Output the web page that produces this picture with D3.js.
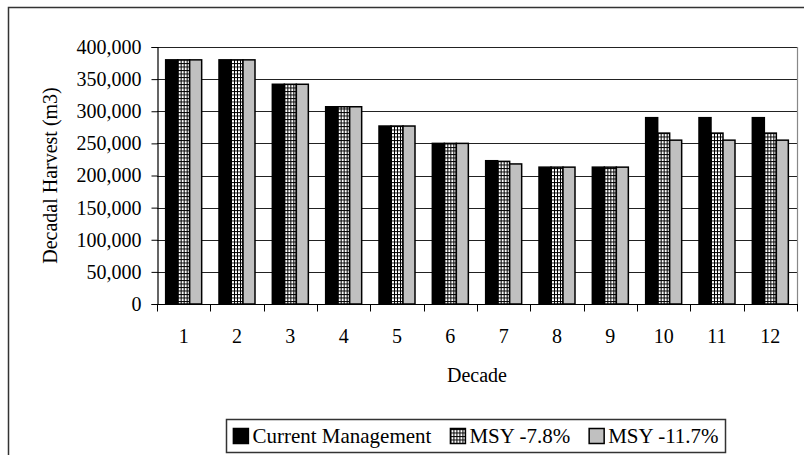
<!DOCTYPE html>
<html>
<head>
<meta charset="utf-8">
<script src="https://cdn.jsdelivr.net/npm/d3@7"></script>
<style>
  html, body { margin: 0; padding: 0; background: #fff; }
  svg { display: block; }
  text { font-family: "Liberation Serif", "Times New Roman", serif; fill: #000; }
</style>
</head>
<body>
<svg id="chart" width="804" height="455"></svg>
<script>
// Decadal harvest volumes (m3) under three management scenarios
const decades = ["1", "2", "3", "4", "5", "6", "7", "8", "9", "10", "11", "12"];
const seriesNames = ["Current Management", "MSY -7.8%", "MSY -11.7%"];
const currentManagement = [380000, 380000, 342000, 307000, 277000, 250000, 223000, 213000, 213000, 290000, 290000, 290000];
const msy78 = [380000, 380000, 342000, 307000, 277000, 250000, 222000, 213000, 213000, 266000, 266000, 266000];
const msy117 = [380000, 380000, 342000, 307000, 277000, 250000, 218000, 213000, 213000, 255000, 255000, 255000];
const yTicks = [0, 50000, 100000, 150000, 200000, 250000, 300000, 350000, 400000];
const yTitle = "Decadal Harvest (m3)";
const xTitle = "Decade";

const seriesValues = [currentManagement, msy78, msy117];

const svg = d3.select("#chart");
const FONT = 20;
const LEGEND_FONT = 21;

const plot = { left: 157, right: 797, top: 47, bottom: 304 };

// Outer chart frame (only its left and top edges fall inside the canvas)
svg.append("path")
  .attr("d", "M8.5,460 V7.5 H810")
  .attr("fill", "none")
  .attr("stroke", "#333")
  .attr("stroke-width", 1.5);

// Hatch pattern (small grid) for the MSY -7.8% series
const defs = svg.append("defs");
const pat = defs.append("pattern")
  .attr("id", "grid")
  .attr("patternUnits", "userSpaceOnUse")
  .attr("width", 3)
  .attr("height", 3.5);
pat.append("rect").attr("width", 3).attr("height", 3.5).attr("fill", "#fff");
pat.append("rect").attr("x", 0).attr("y", 0).attr("width", 1).attr("height", 3.5).attr("fill", "#000");
pat.append("rect").attr("x", 0).attr("y", 0).attr("width", 3).attr("height", 1).attr("fill", "#000");

const fills = ["#000", "url(#grid)", "#c0c0c0"];

const x0 = d3.scaleBand()
  .domain(decades)
  .range([plot.left, plot.right])
  .paddingInner(0.325)
  .paddingOuter(0.1625);

const x1 = d3.scaleBand()
  .domain(d3.range(seriesNames.length))
  .range([0, x0.bandwidth()]);

const y = d3.scaleLinear()
  .domain([0, 400000])
  .range([plot.bottom, plot.top]);

// Horizontal gridlines
svg.append("g")
  .selectAll("line")
  .data(yTicks.filter(t => t > 0))
  .join("line")
  .attr("x1", plot.left)
  .attr("x2", plot.right)
  .attr("y1", d => Math.round(y(d)) + 0.5)
  .attr("y2", d => Math.round(y(d)) + 0.5)
  .attr("stroke", "#222")
  .attr("stroke-width", 1);

// Plot area right edge
svg.append("line")
  .attr("x1", plot.right + 0.5).attr("x2", plot.right + 0.5)
  .attr("y1", plot.top).attr("y2", plot.bottom)
  .attr("stroke", "#888").attr("stroke-width", 1.2);

// Bars
const groups = svg.append("g")
  .selectAll("g")
  .data(decades)
  .join("g")
  .attr("transform", d => `translate(${x0(d)},0)`);

groups.selectAll("rect")
  .data((d, i) => seriesValues.map((vals, s) => ({ s, v: vals[i] })))
  .join("rect")
  .attr("x", d => x1(d.s))
  .attr("width", x1.bandwidth())
  .attr("y", d => y(d.v))
  .attr("height", d => y(0) - y(d.v))
  .attr("fill", d => fills[d.s])
  .attr("stroke", "#000")
  .attr("stroke-width", 1.5);

// Y axis
const yAxis = d3.axisLeft(y)
  .tickValues(yTicks)
  .tickSize(6)
  .tickPadding(10)
  .tickFormat(d3.format(","));
const gy = svg.append("g")
  .attr("transform", `translate(${plot.left + 0.5},0)`)
  .call(yAxis);
gy.select(".domain").attr("stroke", "#000").attr("stroke-width", 1.2);
gy.selectAll(".tick line").attr("stroke", "#000");
gy.selectAll(".tick text")
  .style("font-size", FONT + "px")
  .style("font-family", '"Liberation Serif", serif');

// X axis with ticks at category boundaries
const gx = svg.append("g")
  .attr("transform", `translate(0,${plot.bottom + 0.5})`);
gx.append("line")
  .attr("x1", plot.left).attr("x2", plot.right + 1)
  .attr("stroke", "#000").attr("stroke-width", 1.2);
const step = x0.step();
const bounds = d3.range(decades.length + 1).map(i => plot.left + i * step);
gx.selectAll("line.tk")
  .data(bounds)
  .join("line")
  .attr("class", "tk")
  .attr("x1", d => Math.round(d) + 0.5)
  .attr("x2", d => Math.round(d) + 0.5)
  .attr("y1", 0).attr("y2", 7)
  .attr("stroke", "#000");
gx.selectAll("text")
  .data(decades)
  .join("text")
  .attr("x", d => x0(d) + x0.bandwidth() / 2)
  .attr("y", 38)
  .attr("text-anchor", "middle")
  .style("font-size", FONT + "px")
  .text(d => d);

// Axis titles
svg.append("text")
  .attr("transform", `translate(57,${(plot.top + plot.bottom) / 2}) rotate(-90)`)
  .attr("text-anchor", "middle")
  .style("font-size", FONT + "px")
  .text(yTitle);

svg.append("text")
  .attr("x", (plot.left + plot.right) / 2)
  .attr("y", 382)
  .attr("text-anchor", "middle")
  .style("font-size", FONT + "px")
  .text(xTitle);

// Legend
const legendBox = svg.append("rect");
const legend = svg.append("g");
const sq = 15, sqGap = 4, itemGap = 19, padX = 7;
let cx = 0;
seriesNames.forEach((name, i) => {
  const g = legend.append("g");
  g.append("rect")
    .attr("x", 0).attr("y", -sq / 2)
    .attr("width", sq).attr("height", sq)
    .attr("fill", fills[i]).attr("stroke", "#000").attr("stroke-width", 1.5);
  const t = g.append("text")
    .attr("x", sq + sqGap)
    .attr("dy", "0.35em")
    .style("font-size", LEGEND_FONT + "px")
    .text(name);
  const w = sq + sqGap + t.node().getComputedTextLength();
  g.attr("transform", `translate(${cx},0)`);
  cx += w + itemGap;
});
const legendW = cx - itemGap + padX * 2;
const legendCenter = 476;
const lx = legendCenter - legendW / 2;
legend.attr("transform", `translate(${lx + padX},436)`);
legendBox
  .attr("x", Math.round(lx) + 0.5)
  .attr("y", 419.5)
  .attr("width", Math.round(legendW))
  .attr("height", 33)
  .attr("fill", "#fff")
  .attr("stroke", "#333")
  .attr("stroke-width", 1.5);
</script>
</body>
</html>
